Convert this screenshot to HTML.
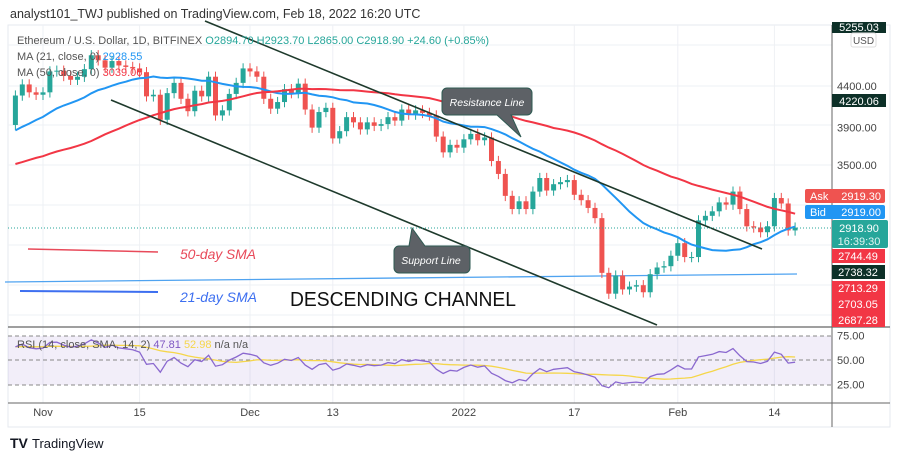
<!DOCTYPE html>
<html><head><meta charset="utf-8">
<style>
body{margin:0;background:#fff;width:900px;height:460px;overflow:hidden;font-family:"Liberation Sans",sans-serif}
svg{position:absolute;left:0;top:0}
</style></head>
<body>
<svg id="c" width="900" height="460">
<text x="10" y="18" font-size="12.5" fill="#333">analyst101_TWJ published on TradingView.com, Feb 18, 2022 16:20 UTC</text>
<rect x="8" y="25" width="882" height="402" fill="#fff" stroke="#e6e9ef"/>
<g id="grid"></g>
<rect x="8" y="336" width="824" height="49" fill="#7e57c2" fill-opacity="0.1"/>
<g id="rsiLines">
<line x1="8" x2="832" y1="336" y2="336" stroke="#888" stroke-dasharray="4,3"/>
<line x1="8" x2="832" y1="360" y2="360" stroke="#888" stroke-dasharray="4,3"/>
<line x1="8" x2="832" y1="385" y2="385" stroke="#888" stroke-dasharray="4,3"/>
</g>
<line x1="5" y1="282" x2="797" y2="274" stroke="#4fa3f0" stroke-width="1.3"/>
<g id="candles"></g>
<g id="mas"></g>
<g id="rsi"></g>
<line x1="205" y1="21" x2="762" y2="249" stroke="#1e3a2c" stroke-width="1.6"/>
<line x1="111" y1="100" x2="657" y2="325" stroke="#1e3a2c" stroke-width="1.6"/>
<g>
<path d="M447,88 h80 a5,5 0 0 1 5,5 v17 a5,5 0 0 1 -5,5 h-16 l10,22 l-24,-22 h-50 a5,5 0 0 1 -5,-5 v-17 a5,5 0 0 1 5,-5z" fill="#5d6166" stroke="#2e5a52"/>
<text x="487" y="106" font-size="10.5" font-style="italic" fill="#fff" text-anchor="middle">Resistance Line</text>
</g>
<g>
<path d="M399,246 h10 l3,-18 l13,18 h40 a5,5 0 0 1 5,5 v17 a5,5 0 0 1 -5,5 h-66 a5,5 0 0 1 -5,-5 v-17 a5,5 0 0 1 5,-5z" fill="#5d6166" stroke="#2e5a52"/>
<text x="431" y="264" font-size="10.5" font-style="italic" fill="#fff" text-anchor="middle">Support Line</text>
</g>
<line x1="28" y1="249" x2="158" y2="252" stroke="#e84a5a" stroke-width="1.5"/>
<text x="180" y="259" font-size="14" font-style="italic" fill="#e84a5a" textLength="76">50-day SMA</text>
<line x1="20" y1="291" x2="158" y2="292" stroke="#3d6ff0" stroke-width="2"/>
<text x="180" y="302" font-size="14" font-style="italic" fill="#3d6ff0" textLength="77">21-day SMA</text>
<text x="290" y="306" font-size="20" fill="#111" textLength="226" lengthAdjust="spacingAndGlyphs">DESCENDING CHANNEL</text>
<g font-size="11">
<text x="17" y="44" fill="#555">Ethereum / U.S. Dollar, 1D, BITFINEX <tspan fill="#26a69a">O2894.70 H2923.70 L2865.00 C2918.90 +24.60 (+0.85%)</tspan></text>
<text x="17" y="60" fill="#555">MA (21, close, 0) <tspan fill="#2196f3">2928.55</tspan></text>
<text x="17" y="76" fill="#555">MA (50, close, 0) <tspan fill="#f23645">3039.06</tspan></text>
<text x="17" y="348" fill="#555">RSI (14, close, SMA, 14, 2) <tspan fill="#7e57c2">47.81</tspan> <tspan fill="#f5d64a">52.98</tspan> n/a n/a</text>
</g>
<line x1="832" y1="25" x2="832" y2="427" stroke="#666"/>
<line x1="8" y1="327" x2="890" y2="327" stroke="#666" stroke-width="1.2"/>
<line x1="8" y1="403" x2="890" y2="403" stroke="#666"/>
<g id="ticks" font-size="11" fill="#444"></g>
<g font-size="11">
<rect x="832" y="22" width="54" height="11" fill="#0d3028"/><text x="859" y="31" fill="#fff" text-anchor="middle">5255.03</text>
<rect x="851" y="33" width="25" height="14" rx="2" fill="#fff" stroke="#ddd"/><text x="863.5" y="44" fill="#555" font-size="10" text-anchor="middle">USD</text>
<rect x="832" y="94" width="54" height="13" fill="#0d3028"/><text x="859" y="105" fill="#fff" text-anchor="middle">4220.06</text>
<rect x="805" y="189" width="80" height="14" rx="2" fill="#ef5350"/><text x="810" y="200" fill="#fff">Ask</text><text x="881" y="200" fill="#fff" text-anchor="end">2919.30</text>
<rect x="805" y="205" width="80" height="14" rx="2" fill="#2196f3"/><text x="810" y="216" fill="#fff">Bid</text><text x="881" y="216" fill="#fff" text-anchor="end">2919.00</text>
<rect x="832" y="220" width="56" height="28" rx="2" fill="#26a69a"/><text x="859" y="232" fill="#fff" text-anchor="middle">2918.90</text><text x="859" y="245" fill="#e0f5f2" text-anchor="middle">16:39:30</text>
<rect x="832" y="249" width="53" height="14" fill="#f23645"/><text x="858" y="260" fill="#fff" text-anchor="middle">2744.49</text>
<rect x="832" y="265" width="53" height="14" fill="#0d3028"/><text x="858" y="276" fill="#fff" text-anchor="middle">2738.32</text>
<rect x="832" y="281" width="53" height="46" fill="#f23645"/><text x="858" y="292" fill="#fff" text-anchor="middle">2713.29</text><text x="858" y="308" fill="#fff" text-anchor="middle">2703.05</text><text x="858" y="324" fill="#fff" text-anchor="middle">2687.28</text>
</g>
<line x1="8" y1="228" x2="832" y2="228" stroke="#26a69a" stroke-dasharray="1,2"/>
<g>
<text x="10" y="448" font-size="14" font-weight="bold" fill="#131722">TV</text>
<text x="32" y="448" font-size="13" fill="#131722">TradingView</text>
</g>
</svg>
<script>
const priorCloses=[3420,3210,3260,3410,3290,3430,3610,3570,3400,3430,3330,2980,2760,3080,3160,2930,2930,3060,2930,2810,2850,3000,3310,3390,3420,3520,3580,3590,3560,3560,3570,3420,3550,3500,3600,3790,3870,3830,3850,3740,3880,4160,4060,4050,4170,4080,4220,4130,3930];
const closes=[4280,4420,4320,4290,4320,4590,4600,4530,4480,4520,4620,4810,4740,4640,4730,4670,4650,4630,4580,4270,4290,3990,4310,4440,4240,4090,4340,4270,4520,4040,4100,4300,4440,4630,4590,4520,4240,4120,4200,4360,4310,4430,4110,3900,4080,4130,3780,3860,4020,3960,3880,3960,3920,3940,4020,3980,4110,4050,4100,4070,4040,3800,3630,3710,3680,3770,3830,3760,3790,3540,3410,3200,3080,3150,3080,3240,3370,3250,3310,3330,3350,3210,3160,3090,3000,2560,2410,2540,2440,2460,2470,2420,2550,2600,2610,2690,2790,2680,2680,2980,3020,3060,3140,3120,3240,3080,2930,2920,2880,2930,3180,3130,2895,2919];
const dateLabels=["Nov","15","Dec","13","2022","17","Feb","14"];
const dateIndex=[4,18,34,46,65,81,96,110];
const priceTicks=[4400,3900,3500];
const rsiTicks=[75,50,25];
const NS="http://www.w3.org/2000/svg";
function el(t,a,p){const e=document.createElementNS(NS,t);for(const k in a)e.setAttribute(k,a[k]);p.appendChild(e);return e;}
const X=i=>15.4+6.9*i;
const Y=p=>86-345*Math.log(p/4400);
const RY=v=>360-(v-50)*0.98;
const grid=document.getElementById('grid');
[45,86,125,165,205,245,285,315].forEach(y=>{el('line',{x1:8,x2:832,y1:y,y2:y,stroke:'#eef0f4'},grid);});
dateIndex.forEach(i=>{el('line',{x1:X(i),x2:X(i),y1:25,y2:403,stroke:'#eef0f4'},grid);});
const ticks=document.getElementById('ticks');
dateLabels.forEach((l,k)=>{const t=el('text',{x:X(dateIndex[k]),y:416,'text-anchor':'middle'},ticks);t.textContent=l;

});
priceTicks.forEach(p=>{const t=el('text',{x:837,y:Y(p)+4},ticks);t.textContent=p.toFixed(2);

});
rsiTicks.forEach(v=>{const t=el('text',{x:837,y:RY(v)+4},ticks);t.textContent=v.toFixed(2);

});
const cg=document.getElementById('candles');
const all=priorCloses.concat(closes);const off=priorCloses.length;
closes.forEach((c,i)=>{const o=all[off+i-1];const up=c>=o;const col=up?'#26a69a':'#ef5350';
const hi=Math.max(o,c)*1.015,lo=Math.min(o,c)*0.985;const x=X(i);
const w=el('line',{x1:x,x2:x,y1:Y(hi),y2:Y(lo),stroke:col,'stroke-width':1},cg);


const yt=Y(Math.max(o,c)),yb=Y(Math.min(o,c));
const b=el('rect',{x:x-2.5,y:yt,width:5,height:Math.max(1,yb-yt),fill:col},cg);

});
function sma(n,i){let s=0;for(let k=0;k<n;k++)s+=all[off+i-k];return s/n;}
const mg=document.getElementById('mas');
[[21,'#2196f3'],[50,'#f23645']].forEach(([n,col])=>{let d='';closes.forEach((c,i)=>{d+=(i?'L':'M')+X(i).toFixed(1)+','+Y(sma(n,i)).toFixed(1);});
const p=el('path',{d:d,fill:'none',stroke:col,'stroke-width':2},mg);

});
let ag=0,al=0;const rsi=[];
for(let k=1;k<all.length;k++){const ch=all[k]-all[k-1];const g=Math.max(ch,0),l=Math.max(-ch,0);
if(k<=14){ag+=g/14;al+=l/14;}else{ag=(ag*13+g)/14;al=(al*13+l)/14;}
rsi[k]=al===0?100:100-100/(1+ag/al);}
const rg=document.getElementById('rsi');let d1='',d2='';
closes.forEach((c,i)=>{const k=off+i;d1+=(i?'L':'M')+X(i).toFixed(1)+','+RY(rsi[k]).toFixed(1);
let s=0;for(let j=0;j<14;j++)s+=rsi[k-j];d2+=(i?'L':'M')+X(i).toFixed(1)+','+RY(s/14).toFixed(1);});
const ps=el('path',{d:d2,fill:'none',stroke:'#f5d64a','stroke-width':1.3},rg);


const pr=el('path',{d:d1,fill:'none',stroke:'#8a68cf','stroke-width':1.3},rg);


</script>
</body></html>
